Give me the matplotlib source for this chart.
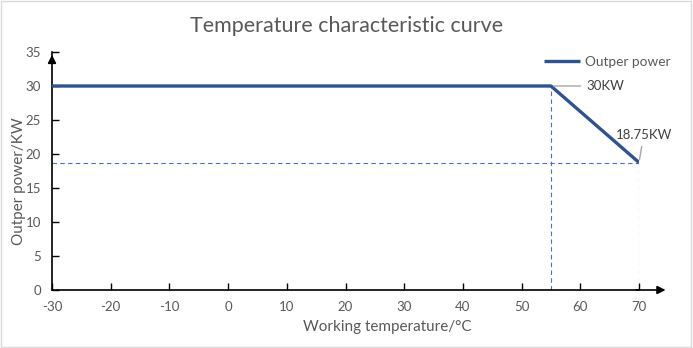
import matplotlib.pyplot as plt
from matplotlib.patches import Rectangle

temperature = [-30, 55, 70]
power = [30, 30, 18.75]
x_ticks = [-30, -20, -10, 0, 10, 20, 30, 40, 50, 60, 70]
y_ticks = [0, 5, 10, 15, 20, 25, 30, 35]

plt.rcParams["font.family"] = ["Lato", "DejaVu Sans"]
plt.rcParams["axes.unicode_minus"] = False
text_color = "#595959"
line_color = "#2F5290"
dash_color = "#4472C4"

fig = plt.figure(figsize=(6.93, 3.48), dpi=100)
ax = fig.add_axes([52 / 693, 1 - 290 / 348, (639 - 52) / 693, (290 - 52) / 348])

ax.plot(temperature, power, color=line_color, lw=2.4, label="Outper power",
        solid_capstyle="butt", zorder=3)

# guide lines at the corner and end points
x_knee, x_end = temperature[1], temperature[2]
y_end = power[2]
dash = dict(color=dash_color, lw=0.8, ls=(0, (4, 3)), zorder=2)
ax.plot([x_knee, x_knee], [0, power[1]], **dash)
ax.plot([x_end, x_end], [0, y_end], **dash)
ax.plot([temperature[0], x_end], [y_end, y_end], **dash)

ax.set_xlim(-30, 70)
ax.set_ylim(0, 35)
ax.set_xticks(x_ticks)
ax.set_yticks(y_ticks)
ax.tick_params(direction="in", length=5, width=1, colors="black",
               labelcolor=text_color, labelsize=9.5, pad=8)
for s in ["top", "right"]:
    ax.spines[s].set_visible(False)
for s in ["left", "bottom"]:
    ax.spines[s].set_linewidth(1.2)

# arrow heads on the axes
arrow = dict(arrowstyle="-|>", color="black", lw=1.2, mutation_scale=12)
ax.annotate("", xy=(1.05, 0), xytext=(0.99, 0), xycoords="axes fraction",
            arrowprops=arrow, annotation_clip=False)
ax.annotate("", xy=(0, 1.0), xytext=(0, 0.95), xycoords="axes fraction",
            arrowprops=arrow, annotation_clip=False)

# value labels with leader lines
lead = dict(arrowstyle="-", color="#A6A6A6", lw=1)
ax.annotate(f"{power[1]:g}KW", xy=(x_knee, power[1]), xytext=(x_knee + 6, 30.0),
            color="#404040", fontsize=9.5, va="center", arrowprops=lead)
ax.annotate(f"{y_end:g}KW", xy=(x_end, y_end), xytext=(x_end - 4, 22.8),
            color="#404040", fontsize=9.5, va="center", arrowprops=lead,
            annotation_clip=False)

ax.set_xlabel("Working temperature/°C", color=text_color, fontsize=11)
ax.xaxis.set_label_coords(0.572, -0.125)
ax.set_ylabel("Outper power/KW", color=text_color, fontsize=11)
ax.yaxis.set_label_coords(-0.045, 0.458)
fig.suptitle("Temperature characteristic curve", color=text_color, fontsize=15.5,
             y=0.955)

ax.legend(loc="upper right", bbox_to_anchor=(1.075, 1.035), frameon=False,
          fontsize=9.8, labelcolor=text_color, handlelength=2.6, handletextpad=0.4)

fig.patches.append(Rectangle((0.002, 0.003), 0.995, 0.994, transform=fig.transFigure,
                             fill=False, edgecolor="#D9D9D9", lw=1))

fig.savefig("out.png", dpi=100)
